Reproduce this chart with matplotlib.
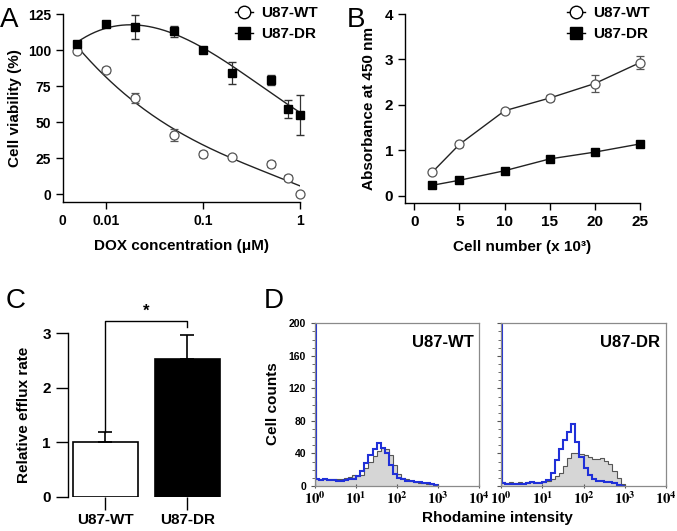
import numpy as np
import matplotlib
matplotlib.use('Agg')
import matplotlib.pyplot as plt
from matplotlib.lines import Line2D
from matplotlib.ticker import FixedLocator, NullFormatter, LogLocator, MultipleLocator

plt.rcParams['font.family'] = ['Liberation Sans', 'DejaVu Sans']
plt.rcParams['font.weight'] = 'bold'
plt.rcParams['axes.labelweight'] = 'bold'
plt.rcParams['axes.linewidth'] = 1.0
plt.rcParams['mathtext.fontset'] = 'stix'

# ---------------- data ----------------
# Panel A: cell viability vs DOX concentration
dox_conc = [0.005, 0.01, 0.02, 0.05, 0.1, 0.2, 0.5, 0.75, 1.0]
wt_viab = [99, 86, 67, 41, 28, 26, 21, 11, 0]
wt_viab_err = [1, 2, 3.5, 4.5, 2, 1, 2, 2, 1]
dr_viab = [104, 118, 116, 113, 100, 84, 79, 59, 55]
dr_viab_err = [2, 2, 8.5, 4, 1.5, 7.5, 3.5, 6, 14]
dox_tick_vals = [0.01, 0.1, 1]
dox_tick_labels = ['0', '0.01', '0.1', '1']
viab_ticks = [0, 25, 50, 75, 100, 125]

# Panel B: absorbance vs cell number
cell_number = [2, 5, 10, 15, 20, 25]
wt_abs = [0.52, 1.13, 1.87, 2.15, 2.47, 2.93]
wt_abs_err = [0.04, 0.05, 0.04, 0.07, 0.18, 0.15]
dr_abs = [0.23, 0.34, 0.55, 0.81, 0.96, 1.14]
dr_abs_err = [0.02, 0.02, 0.02, 0.03, 0.03, 0.03]
cell_ticks = [0, 5, 10, 15, 20, 25]
abs_ticks = [0, 1, 2, 3, 4]

# Panel C: relative efflux rate
groups = ['U87-WT', 'U87-DR']
efflux = [1.0, 2.52]
efflux_err = [0.18, 0.44]
efflux_ticks = [0, 1, 2, 3]

# Panel D: flow cytometry histograms (log10 intensity bin edges)
hist_log_edges = [0.0, 0.02, 0.1, 0.2, 0.3, 0.4, 0.5, 0.6, 0.7, 0.8, 0.9, 1.0,
                  1.1, 1.2, 1.3, 1.4, 1.5, 1.6, 1.7, 1.8, 1.9, 2.0, 2.1, 2.2,
                  2.3, 2.4, 2.5, 2.6, 2.7, 2.8, 2.9, 3.0]
wt_gray = [104, 8, 8, 9, 8, 9, 8, 9, 10, 11, 13, 12, 14, 22, 30, 37, 43, 47,
           46, 38, 26, 15, 10, 8, 6, 5, 4, 4, 3, 2, 1]
wt_blue = [250, 8, 7, 8, 7, 7, 6, 6, 7, 8, 9, 12, 18, 28, 38, 46, 53, 47,
           40, 26, 15, 10, 8, 6, 6, 5, 5, 4, 4, 3, 1]
dr_gray = [104, 5, 4, 5, 4, 5, 4, 5, 5, 5, 5, 5, 6, 9, 12, 16, 24, 34,
           40, 41, 39, 38, 36, 33, 33, 34, 31, 27, 19, 10, 3]
dr_blue = [250, 4, 3, 3, 3, 3, 3, 4, 5, 4, 4, 5, 7, 16, 32, 45, 56, 66,
           76, 54, 36, 22, 13, 8, 6, 6, 5, 5, 4, 1, 0]
count_ticks = [0, 40, 80, 120, 160, 200]
intensity_ticks = [1, 10, 100, 1000, 10000]
intensity_labels = [r'$\mathbf{10^{0}}$', r'$\mathbf{10^{1}}$', r'$\mathbf{10^{2}}$',
                    r'$\mathbf{10^{3}}$', r'$\mathbf{10^{4}}$']

# ---------------- figure ----------------
W, H = 677, 531
fig = plt.figure(figsize=(W / 100, H / 100), dpi=100)


def ax_px(l, t, r, b):
    return fig.add_axes([l / W, 1 - b / H, (r - l) / W, (b - t) / H])


def noclip(cont):
    for ch in cont.get_children():
        ch.set_clip_on(False)


FS = 10
GRAY_MK = '#555555'

# ---- Panel A ----
axA = ax_px(62.7, 14, 300.3, 201.7)
axA.set_xscale('log')
xmin = 10 ** -2.449
axA.set_xlim(xmin, 1.0)
axA.set_ylim(-5.3, 125)
for s in ['top', 'right']:
    axA.spines[s].set_visible(False)

lx = np.log10(dox_conc)
xf = np.logspace(np.log10(dox_conc[0]), 0, 200)
pw = np.polyfit(lx, wt_viab, 3)
pd_ = np.polyfit(lx, dr_viab, 3)
axA.plot(xf, np.polyval(pw, np.log10(xf)), color='#222222', lw=1.0)
axA.plot(xf, np.polyval(pd_, np.log10(xf)), color='#222222', lw=1.0)

c = axA.errorbar(dox_conc, wt_viab, yerr=wt_viab_err, fmt='o', ms=6.5, mfc='white',
                 mec=GRAY_MK, mew=0.9, ecolor=GRAY_MK, elinewidth=0.9, capsize=3)
noclip(c)
c = axA.errorbar(dox_conc, dr_viab, yerr=dr_viab_err, fmt='s', ms=6, mfc='black',
                 mec='black', ecolor='#333333', elinewidth=0.9, capsize=3)
noclip(c)

axA.set_xticks([xmin] + dox_tick_vals)
axA.set_xticklabels(dox_tick_labels)
axA.xaxis.set_minor_locator(FixedLocator([]))
axA.get_xaxis().get_major_ticks()[0].tick1line.set_visible(False)
axA.set_yticks(viab_ticks)
axA.tick_params(axis='both', labelsize=FS, length=5, width=1.0)
axA.set_xlabel('DOX concentration (\u03bcM)', fontsize=FS + 1, labelpad=8)
axA.set_ylabel('Cell viability (%)', fontsize=FS + 1, labelpad=4)

legA = [Line2D([], [], marker='o', ms=9, mfc='white', mec='black', color='black', lw=1),
        Line2D([], [], marker='s', ms=8, mfc='black', mec='black', color='black', lw=1)]
axA.legend(legA, ['U87-WT', 'U87-DR'], loc='upper left',
           bbox_to_anchor=(229 / W, 1 - 0 / H), bbox_transform=fig.transFigure,
           frameon=False, fontsize=FS + 1, handlelength=1.2, handletextpad=0.5,
           labelspacing=0.45, borderaxespad=0)

# ---- Panel B ----
axB = ax_px(405, 14, 640, 203.3)
axB.set_xlim(-1.03, 25)
axB.set_ylim(-0.167, 4)
for s in ['top', 'right']:
    axB.spines[s].set_visible(False)
c = axB.errorbar(cell_number, wt_abs, yerr=wt_abs_err, fmt='-o', ms=6.5, mfc='white',
                 mec=GRAY_MK, mew=0.9, color='#222222', lw=1.0, ecolor=GRAY_MK,
                 elinewidth=0.9, capsize=3)
noclip(c)
c = axB.errorbar(cell_number, dr_abs, yerr=dr_abs_err, fmt='-s', ms=6, mfc='black',
                 mec='black', color='#222222', lw=1.0, ecolor='#333333',
                 elinewidth=0.9, capsize=3)
noclip(c)
axB.set_xticks(cell_ticks)
axB.set_yticks(abs_ticks)
axB.tick_params(axis='both', labelsize=FS + 1, length=5, width=1.0)
axB.set_xlabel('Cell number (x 10\u00b3)', fontsize=FS + 1, labelpad=8)
axB.set_ylabel('Absorbance at 450 nm', fontsize=FS + 1, labelpad=6)
legB = [Line2D([], [], marker='o', ms=9, mfc='white', mec='black', color='black', lw=1),
        Line2D([], [], marker='s', ms=8, mfc='black', mec='black', color='black', lw=1)]
axB.legend(legB, ['U87-WT', 'U87-DR'], loc='upper left',
           bbox_to_anchor=(561 / W, 1 - 0 / H), bbox_transform=fig.transFigure,
           frameon=False, fontsize=FS + 1, handlelength=1.2, handletextpad=0.5,
           labelspacing=0.45, borderaxespad=0)

# ---- Panel C ----
axC = ax_px(68.3, 333.3, 222, 496.7)
axC.set_xlim(-0.45, 1.42)
axC.set_ylim(0, 3)
for s in ['top', 'right', 'bottom']:
    axC.spines[s].set_visible(False)
xpos = np.arange(len(groups))
axC.bar(xpos, efflux, width=0.79, color=['white', 'black'], edgecolor='black', lw=1.2)
c = axC.errorbar(xpos, efflux, yerr=[[0, 0], efflux_err], fmt='none', ecolor='black',
                 elinewidth=1.2, capsize=5, capthick=1.2)
noclip(c)
axC.set_xticks(xpos)
axC.set_xticklabels(groups)
axC.set_yticks(efflux_ticks)
axC.tick_params(axis='y', labelsize=FS + 1, length=9, width=1.0)
axC.tick_params(axis='x', labelsize=FS + 1, length=9, width=1.0, pad=3)
axC.set_ylabel('Relative efflux rate', fontsize=FS + 1, labelpad=8)
# significance bracket
top_wt = efflux[0] + efflux_err[0]
axC.plot([xpos[0], xpos[0], xpos[1], xpos[1]], [top_wt, 3.23, 3.23, 3.12],
         color='black', lw=1.0, clip_on=False)
axC.text(0.5, 3.27, '*', ha='center', va='bottom', fontsize=FS + 2, clip_on=False)

# ---- Panel D ----
edges = 10 ** np.array(hist_log_edges)
BLUE = '#2030d8'
axes_D = [ax_px(315, 323.3, 479.3, 486), ax_px(501, 323.3, 666, 486)]
for ax, gray, blue, name in zip(axes_D, [wt_gray, dr_gray], [wt_blue, dr_blue],
                                ['U87-WT', 'U87-DR']):
    ax.set_xscale('log')
    ax.set_xlim(1, 1e4)
    ax.set_ylim(0, 200)
    ax.stairs(gray, edges, baseline=0, fill=True, color='#d6d6d6')
    ax.stairs(gray, edges, baseline=0, color='#555555', lw=0.8)
    ax.stairs(blue, edges, baseline=0, color=BLUE, lw=1.5)
    for s in ax.spines.values():
        s.set_color('#8a8a8a')
        s.set_linewidth(0.9)
    ax.set_yticks(count_ticks)
    ax.yaxis.set_minor_locator(MultipleLocator(10))
    ax.set_xticks(intensity_ticks)
    ax.set_xticklabels(intensity_labels, fontsize=10.5)
    ax.xaxis.set_minor_locator(LogLocator(base=10, subs=np.arange(2, 10)))
    ax.xaxis.set_minor_formatter(NullFormatter())
    ax.tick_params(axis='y', which='major', labelsize=7.5, length=3, width=0.8,
                   color='#555555')
    ax.tick_params(axis='y', which='minor', length=2, width=0.6, color='#555555')
    ax.tick_params(axis='x', which='major', length=3, width=0.8, direction='inout',
                   color='#555555', pad=2)
    ax.tick_params(axis='x', which='minor', length=2, width=0.6, direction='inout',
                   color='#555555')
    ax.text(0.78, 0.88, name, transform=ax.transAxes, ha='center', va='center',
            fontsize=FS + 2)
axes_D[1].tick_params(axis='y', labelleft=False)

fig.text(273 / W, 1 - 404 / H, 'Cell counts', rotation=90, ha='center', va='center',
         fontsize=FS + 1)
fig.text(497 / W, 1 - 518 / H, 'Rhodamine intensity', ha='center', va='center',
         fontsize=FS + 1)

# panel letters
for lab, x, y in [('A', 0, 27), ('B', 347, 27), ('C', 6, 308), ('D', 264, 308)]:
    fig.text(x / W, 1 - y / H, lab, fontsize=20, fontweight='normal',
             ha='left', va='baseline')

fig.savefig('out.png', dpi=100)
